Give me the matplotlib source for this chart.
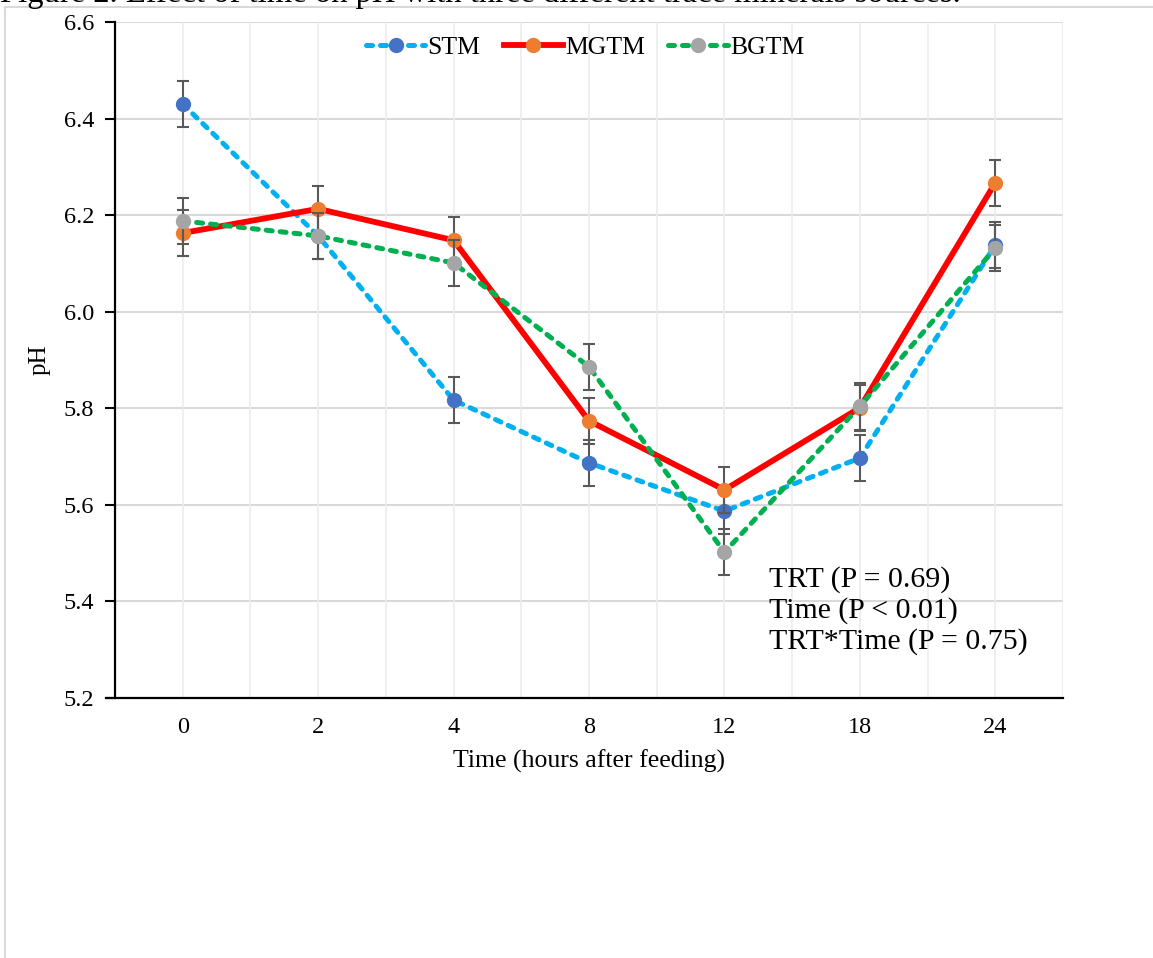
import matplotlib
matplotlib.use("Agg")
from matplotlib import pyplot as plt
from matplotlib.lines import Line2D

# data
times = ['0', '2', '4', '8', '12', '18', '24']
stm = [6.430, 6.157, 5.817, 5.687, 5.587, 5.697, 6.138]
mgtm = [6.163, 6.213, 6.148, 5.774, 5.631, 5.801, 6.267]
bgtm = [6.188, 6.157, 6.101, 5.886, 5.502, 5.804, 6.132]
sem = 0.048

y_ticks = [5.2, 5.4, 5.6, 5.8, 6.0, 6.2, 6.4, 6.6]

plt.rcParams['font.family'] = ['Liberation Serif', 'DejaVu Serif']

W, H = 1153, 958
fig = plt.figure(figsize=(W / 100, H / 100), dpi=100)
ax = fig.add_axes([115 / W, 1 - 698 / H, (1063 - 115) / W, (698 - 22) / H])

x = list(range(len(times)))

# gridlines
ax.set_xlim(-0.5, len(times) - 0.5)
ax.set_ylim(5.2, 6.6)
for v in y_ticks[1:]:
    ax.axhline(v, color='#d9d9d9', lw=1.5, zorder=0)
for i in range(len(times) * 2 + 1):
    ax.axvline(-0.5 + i * 0.5, color='#ececec', lw=1.2, zorder=0)

series = [
    ('STM', stm, '#00b0f0', '#4472c4', (0, (1.2, 1.6)), 3.6),
    ('MGTM', mgtm, '#ff0000', '#ed7d31', '-', 4.2),
    ('BGTM', bgtm, '#00b050', '#a5a5a5', (0, (1.2, 1.6)), 3.6),
]
handles = []
for k, (name, vals, lc, mc, ls, lw) in enumerate(series):
    ax.errorbar(x, vals, yerr=sem, fmt='none', ecolor='#595959',
                elinewidth=1.5, capsize=4.3, capthick=1.5, zorder=2 + k)
    ax.plot(x, vals, color=lc, lw=lw, linestyle=ls, dash_capstyle='round',
            solid_capstyle='round', zorder=2 + k)
    ax.plot(x, vals, 'o', color=mc, markersize=10, zorder=2.5 + k)
    handles.append(Line2D([], [], color=lc, lw=lw, linestyle=ls,
                          dash_capstyle='round', marker='o', markersize=10,
                          markerfacecolor=mc, markeredgecolor=mc,
                          label=name))

ax.set_xticks(x)
ax.set_xticklabels(times)
ax.set_yticks(y_ticks)
ax.set_yticklabels(['%.1f' % v for v in y_ticks])
ax.tick_params(axis='y', length=7, width=1.5, labelsize=17.5, pad=8)
ax.tick_params(axis='x', length=0, labelsize=17.5, pad=14)

for s in ['top', 'right']:
    ax.spines[s].set_visible(False)
ax.spines['left'].set_linewidth(1.6)
ax.spines['bottom'].set_linewidth(1.6)
ax.spines['bottom'].set_bounds(-0.57, 6.5)

ax.set_ylabel('pH', fontsize=18, labelpad=9)
ax.set_xlabel('Time (hours after feeding)', fontsize=18.5, labelpad=8)

ax.legend(handles=handles, loc='center', bbox_to_anchor=(0.496, 0.963),
          ncol=3, frameon=False, fontsize=18.5, handlelength=2.3,
          handletextpad=0.1, columnspacing=0.9)

ax.text(0.690, 0.195, 'TRT (P = 0.69)\nTime (P < 0.01)\nTRT*Time (P = 0.75)',
        transform=ax.transAxes, fontsize=21.5, va='top', ha='left',
        linespacing=1.19)

# chart frame (clipped at page edge) and caption cut at top
fig.add_artist(Line2D([5 / W, 5 / W], [-0.1, 1 - 7 / H], color='#d9d9d9',
                      lw=1.5, transform=fig.transFigure))
fig.add_artist(Line2D([5 / W, 1.1], [1 - 7 / H, 1 - 7 / H], color='#d9d9d9',
                      lw=1.5, transform=fig.transFigure))
fig.text(0.0, 1 - 2 / H,
         'Figure 2. Effect of time on pH with three different trace minerals sources.',
         fontsize=23.5, va='baseline', ha='left')

fig.savefig('out.png', dpi=100)
